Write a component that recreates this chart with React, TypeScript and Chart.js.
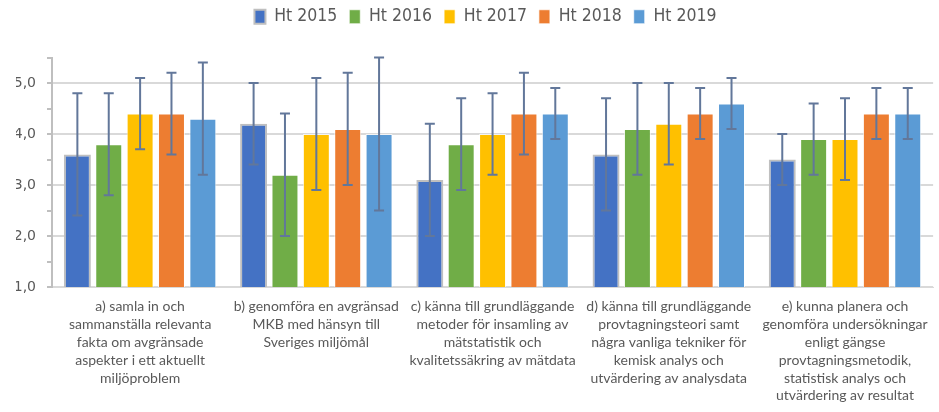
import React, { useEffect, useRef } from "react";
import { Chart, registerables } from "chart.js";

Chart.register(...registerables);

const categories: string[][] = [
  ["a) samla in och", "sammanställa relevanta", "fakta om avgränsade", "aspekter i ett aktuellt", "miljöproblem"],
  ["b) genomföra en avgränsad", "MKB med hänsyn till", "Sveriges miljömål"],
  ["c) känna till grundläggande", "metoder för insamling av", "mätstatistik och", "kvalitetssäkring av mätdata"],
  ["d) känna till grundläggande", "provtagningsteori samt", "några vanliga tekniker för", "kemisk analys och", "utvärdering av analysdata"],
  ["e) kunna planera och", "genomföra undersökningar", "enligt gängse", "provtagningsmetodik,", "statistisk analys och", "utvärdering av resultat"],
];

const seriesNames = ["Ht 2015", "Ht 2016", "Ht 2017", "Ht 2018", "Ht 2019"];

const ht2015 = [3.6, 4.2, 3.1, 3.6, 3.5];
const ht2016 = [3.8, 3.2, 3.8, 4.1, 3.9];
const ht2017 = [4.4, 4.0, 4.0, 4.2, 3.9];
const ht2018 = [4.4, 4.1, 4.4, 4.4, 4.4];
const ht2019 = [4.3, 4.0, 4.4, 4.6, 4.4];

const ht2015Low = [2.4, 3.4, 2.0, 2.5, 3.0];
const ht2015High = [4.8, 5.0, 4.2, 4.7, 4.0];
const ht2016Low = [2.8, 2.0, 2.9, 3.2, 3.2];
const ht2016High = [4.8, 4.4, 4.7, 5.0, 4.6];
const ht2017Low = [3.7, 2.9, 3.2, 3.4, 3.1];
const ht2017High = [5.1, 5.1, 4.8, 5.0, 4.7];
const ht2018Low = [3.6, 3.0, 3.6, 3.9, 3.9];
const ht2018High = [5.2, 5.2, 5.2, 4.9, 4.9];
const ht2019Low = [3.2, 2.5, 3.9, 4.1, 3.9];
const ht2019High = [5.4, 5.5, 4.9, 5.1, 4.9];

const seriesValues = [ht2015, ht2016, ht2017, ht2018, ht2019];
const seriesLows = [ht2015Low, ht2016Low, ht2017Low, ht2018Low, ht2019Low];
const seriesHighs = [ht2015High, ht2016High, ht2017High, ht2018High, ht2019High];

const colors = ["#4472C4", "#70AD47", "#FFC000", "#ED7D31", "#5B9BD5"];
const borders = ["#BFBFBF", "rgba(255,255,255,0.7)", "rgba(255,255,255,0.7)", "rgba(255,255,255,0.7)", "rgba(255,255,255,0.7)"];

const textColor = "#595959";

const errorBarPlugin = {
  id: "errorBars",
  afterDatasetsDraw(chart: any) {
    const ctx = chart.ctx;
    const yScale = chart.scales.y;
    chart.data.datasets.forEach((_ds: any, i: number) => {
      const meta = chart.getDatasetMeta(i);
      meta.data.forEach((bar: any, j: number) => {
        const x = bar.x;
        const lo = yScale.getPixelForValue(seriesLows[i][j]);
        const hi = yScale.getPixelForValue(seriesHighs[i][j]);
        ctx.save();
        ctx.strokeStyle = "#62779A";
        ctx.lineWidth = 2;
        ctx.beginPath();
        ctx.moveTo(x, lo);
        ctx.lineTo(x, hi);
        ctx.moveTo(x - 5, lo);
        ctx.lineTo(x + 5, lo);
        ctx.moveTo(x - 5, hi);
        ctx.lineTo(x + 5, hi);
        ctx.stroke();
        ctx.restore();
      });
    });
  },
};

const legendLayoutPlugin = {
  id: "legendLayout",
  beforeLayout(chart: any) {
    const lg = chart.legend;
    if (lg && !lg._patchedFit) {
      const orig = lg.fit.bind(lg);
      lg.fit = function () {
        orig();
        this.height = 61.5;
      };
      lg._patchedFit = true;
    }
  },
  afterLayout(chart: any) {
    const lg = chart.legend;
    if (lg) {
      lg.left += 10;
      lg.right += 10;
    }
  },
};

export default function App() {
  const canvasRef = useRef<HTMLCanvasElement | null>(null);

  useEffect(() => {
    if (!canvasRef.current) return;
    const chart = new Chart(canvasRef.current, {
      type: "bar",
      data: {
        labels: categories,
        datasets: seriesNames.map((name, i) => ({
          label: name,
          data: seriesValues[i],
          backgroundColor: colors[i],
          borderColor: borders[i],
          borderWidth: i === 0 ? 2 : 1,
          categoryPercentage: 0.89,
          barPercentage: 0.86,
        })),
      },
      options: {
        animation: false,
        responsive: true,
        maintainAspectRatio: false,
        layout: { padding: { left: 16, right: 4, top: -4, bottom: 0 } },
        plugins: {
          tooltip: { enabled: false },
          legend: {
            position: "top",
            labels: {
              boxWidth: 11,
              boxHeight: 14,
              padding: 12,
              color: textColor,
              font: { family: "'DejaVu Sans Condensed', sans-serif", size: 17.5 },
            },
          },
        },
        scales: {
          x: {
            grid: { display: false, drawTicks: false },
            border: { display: true, color: "#D9D9D9", width: 1 },
            ticks: {
              color: textColor,
              font: { family: "Lato, sans-serif", size: 14, lineHeight: 1.27 },
              maxRotation: 0,
              autoSkip: false,
              padding: 11,
            },
            afterFit: (s: any) => {
              s.height = 125;
            },
          },
          y: {
            min: 1,
            max: 5.5,
            ticks: {
              stepSize: 0.5,
              color: textColor,
              padding: 11,
              font: { family: "'DejaVu Sans', sans-serif", size: 14 },
              callback: (v: any) => (Math.abs(v - Math.round(v)) < 1e-9 ? Number(v).toFixed(1).replace(".", ",") : ""),
            },
            grid: {
              color: (c: any) => (c.tick && Math.abs(c.tick.value - Math.round(c.tick.value)) < 1e-9 ? "#D9D9D9" : "rgba(0,0,0,0)"),
              tickColor: "#BFBFBF",
              tickLength: 5,
              lineWidth: 2,
            },
            border: { display: true, color: "#BFBFBF", width: 2 },
            afterFit: (s: any) => {
              s.width = 36;
            },
          },
        },
      },
      plugins: [errorBarPlugin, legendLayoutPlugin],
    });
    return () => chart.destroy();
  }, []);

  return (
    <div style={{ position: "fixed", left: 0, top: 0, width: 939, height: 412 }}>
      <canvas ref={canvasRef} />
    </div>
  );
}
